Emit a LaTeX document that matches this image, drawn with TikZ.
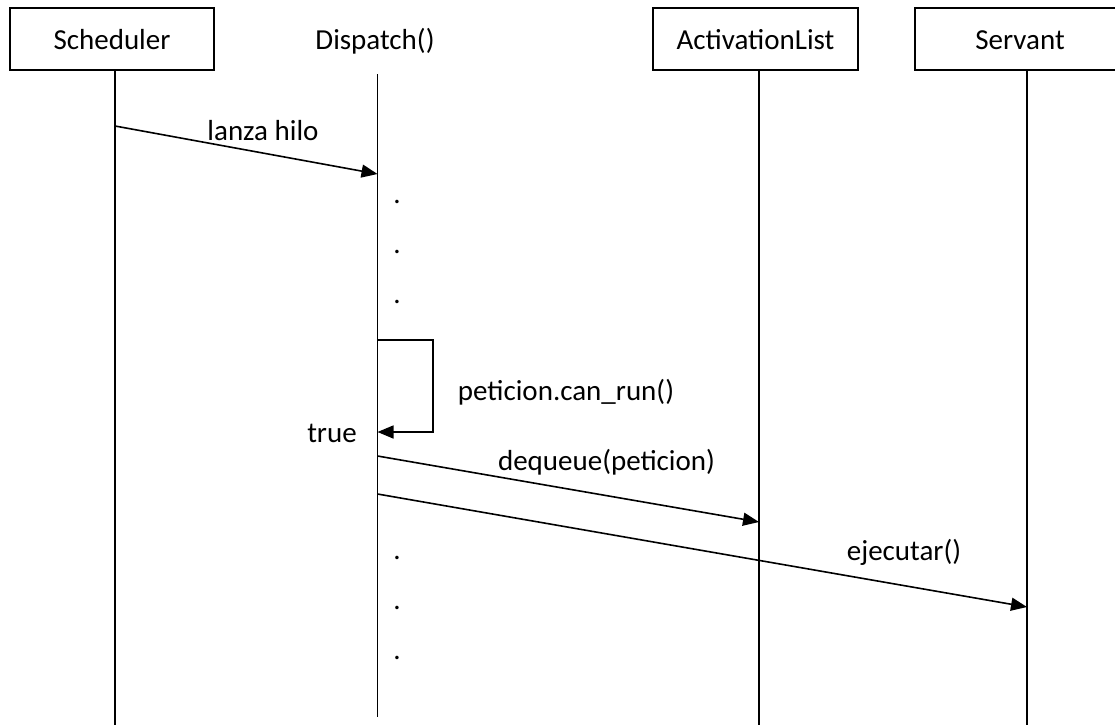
\documentclass[tikz,border=0pt]{standalone}
\usepackage{fontspec}
\setmainfont{Carlito}
\usetikzlibrary{arrows.meta}
\tikzset{
  obj/.style={draw, line width=1.8pt, minimum height=62pt, inner sep=0pt, text height=20pt, text depth=0pt, font=\fontsize{29}{34}\selectfont},
  objtext/.style={inner sep=0pt, text height=20pt, text depth=0pt, font=\fontsize{29}{34}\selectfont},
  lifeline/.style={line width=1.8pt},
  msg/.style={line width=1.6pt, -{Triangle[length=16pt,width=13pt]}},
  lbl/.style={anchor=base, inner sep=0pt, font=\fontsize{29}{34}\selectfont},
  dotnode/.style={inner sep=0pt, font=\fontsize{29}{34}\selectfont}
}
\begin{document}
\begin{tikzpicture}[x=1pt,y=-1pt]
\useasboundingbox (0,0) rectangle (1115,725);
\clip (0,0) rectangle (1115,725);
\fill[white] (0,0) rectangle (1115,725);

% objects
\node[obj, minimum width=204pt] (sch) at (112,39) {Scheduler};
\node[objtext] (dis) at (375,39) {Dispatch()};
\node[obj, minimum width=205pt] (act) at (755.5,39) {ActivationList};
\node[obj, minimum width=210pt] (ser) at (1020,39) {Servant};

% lifeline coordinates
\coordinate (schT) at (115,70);  \coordinate (schB) at (115,725);
\coordinate (disT) at (377.5,74); \coordinate (disB) at (377.5,717);
\coordinate (actT) at (759,70);  \coordinate (actB) at (759,725);
\coordinate (serT) at (1027,70); \coordinate (serB) at (1027,725);

\draw[lifeline] (schT) -- (schB);
\draw[lifeline] (disT) -- (disB);
\draw[lifeline] (actT) -- (actB);
\draw[lifeline] (serT) -- (serB);

% message endpoints
\coordinate (m1s) at (115,126);   \coordinate (m1e) at (377.5,174);
\coordinate (l1) at (377.5,340);  \coordinate (l2) at (433,340);
\coordinate (l3) at (433,432);    \coordinate (l4) at (377.5,432);
\coordinate (m2s) at (377.5,456); \coordinate (m2e) at (759,522);
\coordinate (m3s) at (377.5,494); \coordinate (m3e) at (1027,607);

\draw[msg] (m1s) -- (m1e);
\draw[msg] (l1) -- (l2) -- (l3) -- (l4);
\draw[msg] (m2s) -- (m2e);
\draw[msg] (m3s) -- (m3e);

% labels
\node[lbl] (t1) at (263,140) {lanza hilo};
\node[lbl] (t2) at (566,400) {peticion.can\_run()};
\node[lbl] (t3) at (332,442) {true};
\node[lbl] (t4) at (606.5,470) {dequeue(peticion)};
\node[lbl] (t5) at (904,560) {ejecutar()};

% dots
\node[dotnode] (d1) at (397,202) {.};
\node[dotnode] (d2) at (397,252) {.};
\node[dotnode] (d3) at (397,302) {.};
\node[dotnode] (d4) at (397,558) {.};
\node[dotnode] (d5) at (397,608) {.};
\node[dotnode] (d6) at (397,658) {.};
\end{tikzpicture}
\end{document}
